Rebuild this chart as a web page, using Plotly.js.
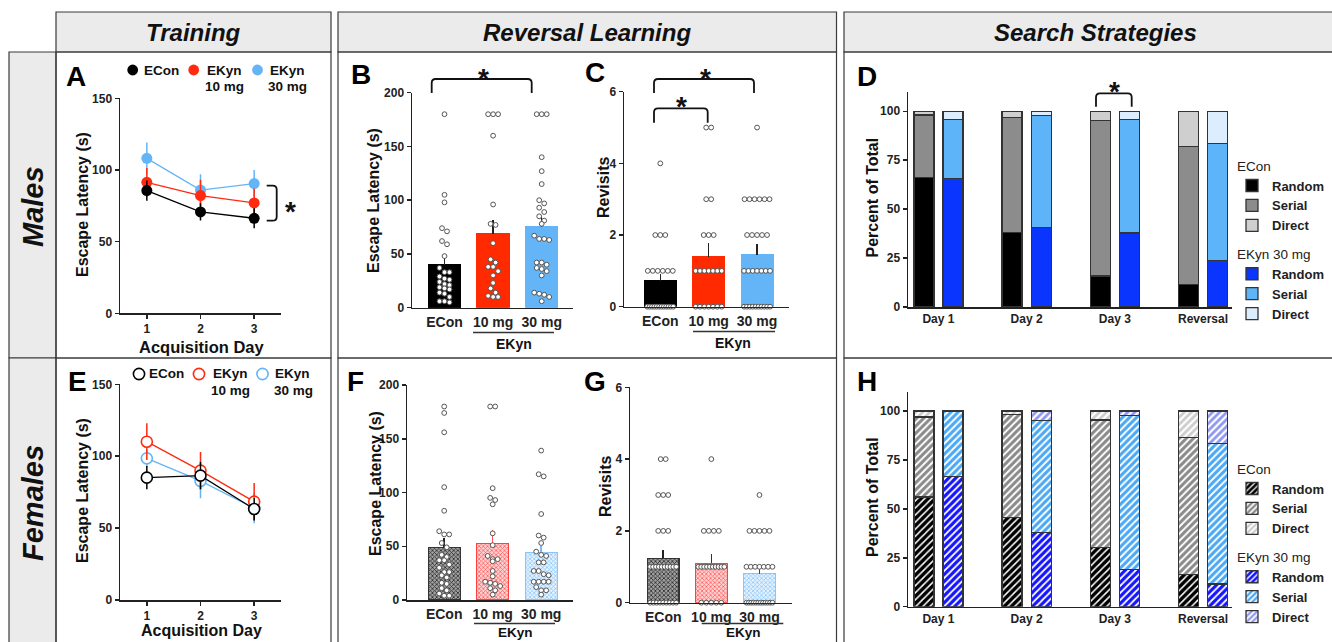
<!DOCTYPE html>
<html><head><meta charset="utf-8">
<script src="https://cdn.plot.ly/plotly-3.0.1.min.js"></script>
<style>html,body{margin:0;padding:0;background:#fff;}#chart{width:1332px;height:642px;}</style>
</head><body><div id="chart"></div>
<script>
// ================= DATA =================
const days = [1, 2, 3];
const barLabels = ['ECon', '10 mg', '30 mg'];
const stratDays = ['Day 1', 'Day 2', 'Day 3', 'Reversal'];

// A: males, acquisition escape latency (mean, SEM)
const mAcqECon = [85.6, 70.7, 66.3];
const mAcqEConSem = [7, 6, 7];
const mAcq10 = [91.4, 82.1, 77.0];
const mAcq10Sem = [10, 11, 10];
const mAcq30 = [108.1, 86.0, 90.5];
const mAcq30Sem = [11, 11, 9.5];

// E: females, acquisition escape latency
const fAcqECon = [85.1, 86.5, 63.3];
const fAcqEConSem = [8, 9.5, 8];
const fAcq10 = [110.1, 90.0, 68.4];
const fAcq10Sem = [12.8, 13, 13];
const fAcq30 = [98.5, 82.8, 63.8];
const fAcq30Sem = [6, 12, 10.5];

// B: males, reversal escape latency
const mRevLatMean = [39.7, 68.5, 75.3];
const mRevLatSem = [9, 13, 10];
const mRevLatECon = [180,105,98,74,71,62,59,48,37,33,33,29,27,26,24,22,21,19,18,17,14,13,10,6,6,5];
const mRevLat10 = [180,180,180,160,96,78,77,60,45,42,38,38,34,30,23,18,14,11,10,10];
const mRevLat30 = [180,180,180,140,127,115,100,97,93,89,85,81,78,67,64,64,63,42,42,40,37,36,34,30,14,13,12,10,6];

// C: males, revisits
const mRevisitsMean = [0.72, 1.40, 1.44];
const mRevisitsSem = [0.19, 0.37, 0.30];
const mRevisitsECon = [4,2,2,2,1,1,1,1,1,1,0,0,0,0,0,0,0,0,0,0,0,0];
const mRevisits10 = [5,5,3,3,2,2,2,1,1,1,1,1,1,1,0,0,0,0,0,0,0];
const mRevisits30 = [5,3,3,3,3,3,3,2,2,2,2,2,1,1,1,1,1,1,1,0,0,0,0,0,0,0,0,0,0];

// F: females, reversal escape latency
const fRevLatMean = [48.7, 52.7, 44.3];
const fRevLatSem = [9, 12, 6];
const fRevLatECon = [180,174,156,105,83,64,61,61,53,49,42,40,37,37,33,30,26,26,23,21,16,15,11,9,6,4,4];
const fRevLat10 = [180,180,104,95,93,89,62,51,41,38,38,36,27,22,17,16,15,13,11,9,5];
const fRevLat30 = [139,117,115,80,60,58,53,45,42,41,35,35,27,27,24,23,17,17,17,17,12,9,9,5];

// G: females, revisits
const fRevisitsMean = [1.235, 1.096, 0.81];
const fRevisitsSem = [0.23, 0.25, 0.17];
const fRevisitsECon = [4,4,3,3,3,2,2,2,1,1,1,1,1,1,1,1,1,1,0,0,0,0,0,0,0,0,0];
const fRevisits10 = [4,2,2,2,2,1,1,1,1,1,1,1,1,1,1,0,0,0,0,0];
const fRevisits30 = [3,2,2,2,2,2,1,1,1,1,1,1,1,0,0,0,0,0,0,0,0,0,0,0,0];

// D: males, search strategies (% of total)
const mEConRandom = [66.1, 38.0, 15.8, 11.6];
const mEConSerial = [32.0, 58.8, 79.6, 70.3];
const mEConDirect = [1.9, 3.2, 4.6, 18.1];
const mEKynRandom = [65.8, 40.5, 37.8, 23.7];
const mEKynSerial = [29.9, 57.3, 57.9, 59.8];
const mEKynDirect = [4.3, 2.2, 4.3, 16.5];

// H: females, search strategies (% of total)
const fEConRandom = [56.0, 45.5, 30.2, 16.5];
const fEConSerial = [40.9, 52.8, 65.2, 69.9];
const fEConDirect = [3.1, 1.7, 4.6, 13.6];
const fEKynRandom = [66.4, 37.8, 18.9, 11.6];
const fEKynSerial = [33.6, 57.4, 78.7, 71.7];
const fEKynDirect = [0, 4.8, 2.4, 16.7];

// ================= STYLE / LAYOUT HELPERS =================
const W = 1332, H = 642;
const X = v => v / W, Y = v => 1 - v / H;
const FONT = 'Liberation Sans, Arial, Helvetica, sans-serif';
const AX = '#222';
const C_BLACK = '#000000', C_RED = '#ff2a10', C_BLUE = '#64b5f7';

const P = {
  A: {id: '',  box: [120, 98.3, 281, 313.3],   xr: [0.5, 3.5],      yr: [0, 150]},
  B: {id: '2', box: [412, 92.7, 573, 307.7],   xr: [-0.669, 2.644], yr: [0, 200]},
  C: {id: '3', box: [624, 91.7, 789, 306.7],   xr: [-0.75, 2.66],   yr: [0, 6]},
  D: {id: '4', box: [908, 91.7, 1231.7, 307],  xr: [-0.345, 3.325], yr: [0, 110]},
  E: {id: '5', box: [120, 384.3, 281, 600],    xr: [0.5, 3.5],      yr: [0, 150]},
  F: {id: '6', box: [407, 385, 573, 600],      xr: [-0.767, 2.656], yr: [0, 200]},
  G: {id: '7', box: [630, 387.3, 791.7, 602.7],xr: [-0.69, 2.67],   yr: [0, 6]},
  H: {id: '8', box: [908, 391.5, 1231.7, 606.7], xr: [-0.345, 3.325], yr: [0, 110]}
};

const layout = {
  width: W, height: H,
  margin: {l: 0, r: 0, t: 0, b: 0},
  paper_bgcolor: '#ffffff', plot_bgcolor: 'rgba(0,0,0,0)',
  barmode: 'stack',
  showlegend: true,
  font: {family: FONT, color: '#222'},
  shapes: [], annotations: []
};

function tickFont(size) { return {family: FONT, size: size, color: '#222', weight: 'bold'}; }

function mkAxes(p, xt, yt) {
  const [l, t, r, b] = p.box;
  layout['xaxis' + p.id] = Object.assign({
    domain: [X(l), X(r)], range: p.xr, anchor: 'y' + p.id,
    showline: true, linecolor: AX, linewidth: 1.5, showgrid: false, zeroline: false,
    fixedrange: true, ticks: '', tickmode: 'array', tickfont: tickFont(12)
  }, xt);
  layout['yaxis' + p.id] = Object.assign({
    domain: [Y(b), Y(t)], range: p.yr, anchor: 'x' + p.id,
    showline: true, linecolor: AX, linewidth: 1.5, showgrid: false, zeroline: false,
    fixedrange: true, ticks: 'outside', ticklen: 4, tickwidth: 1.5, tickcolor: AX,
    tickmode: 'array', tickfont: tickFont(12)
  }, yt);
}

const lineX = {tickvals: days, ticktext: days.map(String), ticks: 'outside', ticklen: 4, tickwidth: 1.5, tickcolor: AX, tickfont: tickFont(12), ticklabelstandoff: 0};
const catX = {tickvals: [0, 1, 2], ticktext: barLabels, tickfont: tickFont(14), ticklabelstandoff: 1};
const stratX = {tickvals: stratDays.map((d, i) => i), ticktext: stratDays, tickfont: tickFont(12), ticklabelstandoff: 0};

mkAxes(P.A, lineX, {tickvals: [0, 50, 100, 150]});
mkAxes(P.E, lineX, {tickvals: [0, 50, 100, 150]});
mkAxes(P.B, catX, {tickvals: [0, 50, 100, 150, 200]});
mkAxes(P.F, catX, {tickvals: [0, 50, 100, 150, 200]});
mkAxes(P.C, catX, {tickvals: [0, 2, 4, 6]});
mkAxes(P.G, catX, {tickvals: [0, 2, 4, 6]});
mkAxes(P.D, stratX, {tickvals: [0, 25, 50, 75, 100]});
mkAxes(P.H, stratX, {tickvals: [0, 25, 50, 75, 100]});

const traces = [];

// ---------- line panels (A, E) ----------
function lineTrace(p, ys, sem, color, open) {
  return {
    type: 'scatter', mode: 'lines+markers', x: days, y: ys,
    xaxis: 'x' + p.id, yaxis: 'y' + p.id, cliponaxis: false,
    line: {color: color, width: 1.3},
    marker: open ? {size: 11, color: '#ffffff', line: {color: color, width: 1.6}}
                 : {size: 11, color: color, line: {width: 0}},
    error_y: {type: 'data', array: sem, visible: true, color: color, thickness: 1.5, width: 0},
    showlegend: false, hoverinfo: 'skip'
  };
}
traces.push(lineTrace(P.A, mAcq30, mAcq30Sem, C_BLUE, false));
traces.push(lineTrace(P.A, mAcq10, mAcq10Sem, C_RED, false));
traces.push(lineTrace(P.A, mAcqECon, mAcqEConSem, C_BLACK, false));
traces.push(lineTrace(P.E, fAcq30, fAcq30Sem, C_BLUE, true));
traces.push(lineTrace(P.E, fAcq10, fAcq10Sem, C_RED, true));
traces.push(lineTrace(P.E, fAcqECon, fAcqEConSem, C_BLACK, true));

// ---------- bar + dot panels (B, C, F, G) ----------
function swarm(vals, center, yPx, xPx, diam, halfW) {
  const idx = vals.map((v, i) => i).sort((a, b) => vals[b] - vals[a]);
  const xs = new Array(vals.length);
  let row = [];
  const flush = () => {
    const n = row.length;
    const s = n > 1 ? Math.min(diam, 2 * halfW / (n - 1)) : 0;
    row.forEach((k, j) => { xs[k] = center + (j - (n - 1) / 2) * s / xPx; });
    row = [];
  };
  idx.forEach(k => {
    if (row.length && (vals[row[0]] - vals[k]) * yPx >= diam * 0.9) flush();
    row.push(k);
  });
  if (row.length) flush();
  return xs;
}
function dotTrace(p, vals, center) {
  const [l, t, r, b] = p.box;
  const yPx = (b - t) / (p.yr[1] - p.yr[0]);
  const xPx = (r - l) / (p.xr[1] - p.xr[0]);
  return {
    type: 'scatter', mode: 'markers', x: swarm(vals, center, yPx, xPx, 5, 13), y: vals,
    xaxis: 'x' + p.id, yaxis: 'y' + p.id, cliponaxis: false,
    marker: {size: 4.8, color: '#ffffff', line: {color: '#555', width: 1}},
    showlegend: false, hoverinfo: 'skip'
  };
}
function barTrace(p, i, mean, sem, fill, lineCol, errCol, pattern) {
  return {
    type: 'bar', x: [i], y: [mean], width: [0.66],
    xaxis: 'x' + p.id, yaxis: 'y' + p.id,
    marker: {color: fill, line: {color: lineCol, width: 1.2}, pattern: pattern},
    error_y: {type: 'data', symmetric: false, array: [sem], arrayminus: [0], color: errCol, thickness: 1.5, width: 0},
    showlegend: false, hoverinfo: 'skip'
  };
}
// B
traces.push(barTrace(P.B, 0, mRevLatMean[0], mRevLatSem[0], '#000000', '#000000', '#222'));
traces.push(barTrace(P.B, 1, mRevLatMean[1], mRevLatSem[1], '#ff2a00', '#ff2a00', '#222'));
traces.push(barTrace(P.B, 2, mRevLatMean[2], mRevLatSem[2], C_BLUE, C_BLUE, '#222'));
traces.push(dotTrace(P.B, mRevLatECon, 0), dotTrace(P.B, mRevLat10, 1), dotTrace(P.B, mRevLat30, 2));
// C
traces.push(barTrace(P.C, 0, mRevisitsMean[0], mRevisitsSem[0], '#000000', '#000000', '#222'));
traces.push(barTrace(P.C, 1, mRevisitsMean[1], mRevisitsSem[1], '#ff2a00', '#ff2a00', '#222'));
traces.push(barTrace(P.C, 2, mRevisitsMean[2], mRevisitsSem[2], C_BLUE, C_BLUE, '#222'));
traces.push(dotTrace(P.C, mRevisitsECon, 0), dotTrace(P.C, mRevisits10, 1), dotTrace(P.C, mRevisits30, 2));
// F (cross-hatched)
const patEConF = {shape: 'x', size: 3, solidity: 0.45, fgcolor: '#2a2a2a', bgcolor: '#a0a0a0'};
const pat10F = {shape: 'x', size: 3, solidity: 0.45, fgcolor: '#ff6060', bgcolor: '#ffd2d2'};
const pat30F = {shape: 'x', size: 3, solidity: 0.45, fgcolor: '#8ec8fa', bgcolor: '#e4f2fe'};
traces.push(barTrace(P.F, 0, fRevLatMean[0], fRevLatSem[0], '#888', '#333', '#222', patEConF));
traces.push(barTrace(P.F, 1, fRevLatMean[1], fRevLatSem[1], '#ff9a9a', '#ff4040', '#ff5050', pat10F));
traces.push(barTrace(P.F, 2, fRevLatMean[2], fRevLatSem[2], '#c4e2fc', '#8cc6f8', '#7cbcf6', pat30F));
traces.push(dotTrace(P.F, fRevLatECon, 0), dotTrace(P.F, fRevLat10, 1), dotTrace(P.F, fRevLat30, 2));
// G
traces.push(barTrace(P.G, 0, fRevisitsMean[0], fRevisitsSem[0], '#888', '#333', '#222', patEConF));
traces.push(barTrace(P.G, 1, fRevisitsMean[1], fRevisitsSem[1], '#ff9a9a', '#ff4040', '#333', pat10F));
traces.push(barTrace(P.G, 2, fRevisitsMean[2], fRevisitsSem[2], '#c4e2fc', '#8cc6f8', '#444', pat30F));
traces.push(dotTrace(P.G, fRevisitsECon, 0), dotTrace(P.G, fRevisits10, 1), dotTrace(P.G, fRevisits30, 2));

// ---------- stacked strategy panels (D, H) ----------
const econX = stratDays.map((d, i) => i - 0.165);
const ekynX = stratDays.map((d, i) => i + 0.165);
function stratTrace(p, xs, vals, name, color, legend, group, title, pattern) {
  const t = {
    type: 'bar', x: xs, y: vals, width: 0.227, name: name,
    xaxis: 'x' + p.id, yaxis: 'y' + p.id,
    legend: legend, legendgroup: group + legend,
    marker: {color: color, line: {color: '#333', width: 1.3}, pattern: pattern},
    hoverinfo: 'skip'
  };
  if (title) t.legendgrouptitle = {text: title};
  return t;
}
traces.push(stratTrace(P.D, econX, mEConRandom, 'Random', '#000000', 'legend', 'econ', 'ECon'));
traces.push(stratTrace(P.D, econX, mEConSerial, 'Serial', '#8c8c8c', 'legend', 'econ'));
traces.push(stratTrace(P.D, econX, mEConDirect, 'Direct', '#cfcfcf', 'legend', 'econ'));
traces.push(stratTrace(P.D, ekynX, mEKynRandom, 'Random', '#0a35ff', 'legend', 'ekyn', 'EKyn 30 mg'));
traces.push(stratTrace(P.D, ekynX, mEKynSerial, 'Serial', '#5eb4f8', 'legend', 'ekyn'));
traces.push(stratTrace(P.D, ekynX, mEKynDirect, 'Direct', '#dcedfd', 'legend', 'ekyn'));

const hp = (fg, sol) => ({shape: '/', size: 5, solidity: sol, fgcolor: fg, bgcolor: '#ffffff'});
traces.push(stratTrace(P.H, econX, fEConRandom, 'Random', '#000000', 'legend2', 'econ', 'ECon', hp('#000000', 0.7)));
traces.push(stratTrace(P.H, econX, fEConSerial, 'Serial', '#8c8c8c', 'legend2', 'econ', null, hp('#8a8a8a', 0.6)));
traces.push(stratTrace(P.H, econX, fEConDirect, 'Direct', '#cfcfcf', 'legend2', 'econ', null, hp('#cdcdcd', 0.55)));
traces.push(stratTrace(P.H, ekynX, fEKynRandom, 'Random', '#1a1aff', 'legend2', 'ekyn', 'EKyn 30 mg', hp('#1414ff', 0.65)));
traces.push(stratTrace(P.H, ekynX, fEKynSerial, 'Serial', '#4aa8f5', 'legend2', 'ekyn', null, hp('#4aa8f5', 0.6)));
traces.push(stratTrace(P.H, ekynX, fEKynDirect, 'Direct', '#9aa2f2', 'legend2', 'ekyn', null, hp('#8f98f0', 0.55)));

const legendBase = {
  xanchor: 'left', yanchor: 'top', bgcolor: 'rgba(0,0,0,0)',
  font: {family: FONT, size: 13, color: '#222', weight: 'bold'},
  grouptitlefont: {family: FONT, size: 13.5, color: '#222'},
  traceorder: 'grouped', tracegroupgap: 8, itemclick: false, itemdoubleclick: false
};
layout.legend = Object.assign({x: X(1232), y: Y(150)}, legendBase);
layout.legend2 = Object.assign({x: X(1232), y: Y(453)}, legendBase);

// ================= FRAMES, TEXT, ANNOTATIONS =================
function rect(x0, y0, x1, y1, fill) {
  layout.shapes.push({type: 'rect', xref: 'paper', yref: 'paper', layer: 'below',
    x0: X(x0), x1: X(x1), y0: Y(y1), y1: Y(y0),
    line: {color: '#3a3a3a', width: 1.2}, fillcolor: fill || 'rgba(0,0,0,0)'});
}
rect(56, 12, 331, 52, '#ebebeb');
rect(338, 12, 836.5, 52, '#ebebeb');
rect(844, 12, 1345, 52, '#ebebeb');
rect(9, 52, 56, 358, '#ebebeb');
rect(9, 358, 56, 660, '#ebebeb');
rect(56, 52, 331, 358); rect(56, 358, 331, 660);
rect(338, 52, 836.5, 358); rect(338, 358, 836.5, 660);
rect(844, 52, 1345, 358); rect(844, 358, 1345, 660);

function txt(text, x, y, size, o) {
  layout.annotations.push(Object.assign({
    text: text, xref: 'paper', yref: 'paper', x: X(x), y: Y(y),
    xanchor: 'center', yanchor: 'middle', showarrow: false,
    font: {family: FONT, size: size, color: '#111', weight: 'bold'}
  }, o || {}));
}
const italicBold = s => ({font: {family: FONT, size: s, color: '#111', weight: 'bold', style: 'italic'}});
txt('Training', 193.5, 32, 24, italicBold(24));
txt('Reversal Learning', 587, 32, 24, italicBold(24));
txt('Search Strategies', 1095, 32, 24, italicBold(24));
txt('Males', 33, 207, 29, Object.assign({textangle: -90}, italicBold(29)));
txt('Females', 33, 503, 29, Object.assign({textangle: -90}, italicBold(29)));

[['A', 76, 77], ['B', 361, 75], ['C', 595, 73], ['D', 867, 77],
 ['E', 77, 381], ['F', 355, 382], ['G', 595, 382], ['H', 867, 382]]
  .forEach(([s, x, y]) => txt(s, x, y, 28, {font: {family: FONT, size: 28, color: '#000', weight: 'bold'}}));

// axis titles
const rot = {textangle: -90};
txt('Escape Latency (s)', 82, 205, 16, rot);
txt('Escape Latency (s)', 373, 201, 16, rot);
txt('Revisits', 603, 188, 16, rot);
txt('Percent of Total', 872, 197.5, 16, rot);
txt('Escape Latency (s)', 82, 491, 16, rot);
txt('Escape Latency (s)', 375, 484, 16, rot);
txt('Revisits', 605, 487, 16, rot);
txt('Percent of Total', 872, 497, 16, rot);
txt('Acquisition Day', 201.7, 347, 16.5);
txt('Acquisition Day', 201.7, 630.5, 16);

// EKyn group labels under bars
function underline(x0, x1, y) {
  layout.shapes.push({type: 'line', xref: 'paper', yref: 'paper', x0: X(x0), x1: X(x1), y0: Y(y), y1: Y(y), line: {color: '#333', width: 1.5}});
}
underline(473, 554, 332.5); txt('EKyn', 513.5, 344, 14);
underline(693, 775, 331.5); txt('EKyn', 733.3, 342.5, 14);
underline(474, 555, 623.5); txt('EKyn', 515, 632.5, 13.5);
underline(701.7, 783.3, 623.5); txt('EKyn', 743.3, 632.5, 13.5);

// A/E legends (manual)
function dot(cx, cy, r, color, open) {
  layout.shapes.push({type: 'circle', xref: 'paper', yref: 'paper',
    x0: X(cx - r), x1: X(cx + r), y0: Y(cy + r), y1: Y(cy - r),
    fillcolor: open ? '#ffffff' : color, line: {color: color, width: open ? 1.6 : 0}});
}
dot(132.7, 70, 5.4, C_BLACK); dot(193.7, 70, 5.4, C_RED); dot(257.5, 70, 5.4, C_BLUE);
txt('ECon', 141.7, 70, 13.5, {xanchor: 'left'});
txt('EKyn', 224, 70, 13.5); txt('10 mg', 224, 86, 13.5);
txt('EKyn', 287.5, 70, 13.5); txt('30 mg', 287.5, 86, 13.5);
dot(139, 374, 5.6, C_BLACK, true); dot(199, 374, 5.6, C_RED, true); dot(262.5, 374, 5.6, C_BLUE, true);
txt('ECon', 146.5, 374, 13.5, {xanchor: 'left'});
txt('EKyn', 230.7, 374, 13.5); txt('10 mg', 230.7, 390, 13.5);
txt('EKyn', 292.5, 374, 13.5); txt('30 mg', 293, 390, 13.5);

// significance brackets & stars
function pathPx(cmds) {
  return cmds.map(c => {
    const pts = [];
    for (let k = 1; k < c.length; k += 2) pts.push(X(c[k]) + ',' + Y(c[k + 1]));
    return c[0] + pts.join(' ');
  }).join(' ');
}
function addPath(cmds) {
  layout.shapes.push({type: 'path', xref: 'paper', yref: 'paper', path: pathPx(cmds), line: {color: '#111', width: 1.8}});
}
function bracketDown(x0, x1, yTop, yTip) {
  const r = 4;
  addPath([['M', x0, yTip], ['L', x0, yTop + r], ['Q', x0, yTop, x0 + r, yTop],
           ['L', x1 - r, yTop], ['Q', x1, yTop, x1, yTop + r], ['L', x1, yTip]]);
}
bracketDown(431.7, 531.7, 79, 93);
bracketDown(654, 754, 79, 93);
bracketDown(654, 707.7, 108.3, 122.7);
bracketDown(1096, 1131.7, 93.3, 106.7);
addPath([['M', 266.7, 185.7], ['L', 272.7, 185.7], ['Q', 276.7, 185.7, 276.7, 189.7],
         ['L', 276.7, 216.7], ['Q', 276.7, 220.7, 272.7, 220.7], ['L', 266.7, 220.7]]);
const star = (x, y) => txt('*', x, y + 6.5, 28, {font: {family: FONT, size: 28, color: '#111', weight: 'bold'}});
star(290, 204.5); star(483, 72); star(705, 72); star(681, 100); star(1114, 85);

Plotly.newPlot('chart', traces, layout, {displayModeBar: false, staticPlot: true});
</script>
</body></html>
